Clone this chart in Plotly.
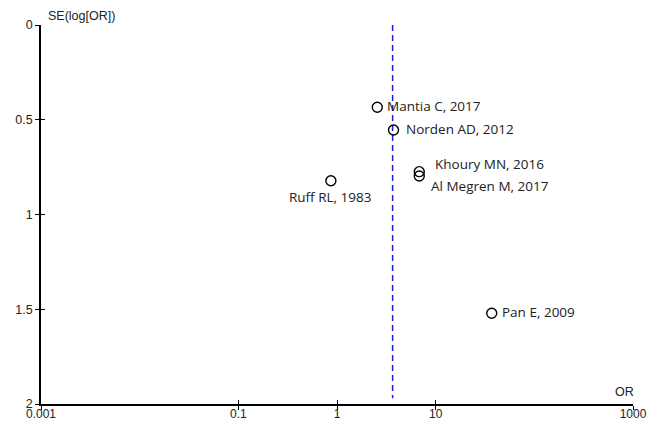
import numpy as np
import plotly.graph_objects as go

studies = ["Mantia C, 2017", "Norden AD, 2012", "Khoury MN, 2016",
           "Al Megren M, 2017", "Ruff RL, 1983", "Pan E, 2009"]
odds_ratio = [2.56, 3.74, 6.82, 6.82, 0.867, 37.0]
se_log_or = [0.434, 0.554, 0.774, 0.797, 0.822, 1.521]
pooled_or = 3.66

x_ticks = [0.001, 0.1, 1, 10, 1000]
x_tick_labels = ["0.001", "0.1", "1", "10", "1000"]
y_ticks = [0, 0.5, 1, 1.5, 2]
y_tick_labels = ["0", "0.5", "1", "1.5", "2"]

# label placement: (xshift, yshift, xanchor)
label_pos = {
    "Mantia C, 2017": (8, 1, "left"),
    "Norden AD, 2012": (10, 1, "left"),
    "Khoury MN, 2016": (14, 8, "left"),
    "Al Megren M, 2017": (10, -10, "left"),
    "Ruff RL, 1983": (-1, -16, "center"),
    "Pan E, 2009": (8, 1, "left"),
}

fig = go.Figure()

fig.add_trace(go.Scatter(
    x=[pooled_or, pooled_or], y=[0, 1.97], mode="lines",
    line=dict(color="#1a1ad8", width=1.5, dash="6px,4px"),
    hoverinfo="skip", showlegend=False))

fig.add_trace(go.Scatter(
    x=odds_ratio, y=se_log_or, mode="markers",
    marker=dict(symbol="circle-open", size=10, color="black",
                line=dict(width=1.4, color="black")),
    showlegend=False))

# faint trace to activate overlay axes (inner half of crossing ticks)
fig.add_trace(go.Scatter(x=[1], y=[1], xaxis="x2", yaxis="y2",
                         mode="markers", marker=dict(size=1, color="white"),
                         hoverinfo="skip", showlegend=False))

for s, xv, yv in zip(studies, odds_ratio, se_log_or):
    xs, ys, xa = label_pos[s]
    fig.add_annotation(x=np.log10(xv), y=yv, text=s, showarrow=False,
                       xanchor=xa, yanchor="middle", xshift=xs, yshift=ys,
                       font=dict(family="Open Sans", size=13.5, color="#222"))

fig.add_annotation(xref="paper", yref="paper", x=0.009, y=1.0, text="SE(log[OR])",
                   showarrow=False, xanchor="left", yanchor="bottom", yshift=0,
                   font=dict(family="Liberation Sans", size=12.5, color="#222"))
fig.add_annotation(xref="paper", yref="paper", x=0.985, y=0.0, text="OR",
                   showarrow=False, xanchor="center", yanchor="bottom", yshift=3,
                   font=dict(family="Liberation Sans", size=12.5, color="#222"))

axis_common = dict(showgrid=False, zeroline=False, showline=True, automargin=False,
                   linecolor="black", linewidth=1.5, tickcolor="black",
                   tickwidth=1.2, ticklen=4)

overlay_common = dict(showticklabels=False, showgrid=False, zeroline=False,
                      showline=False, automargin=False, ticks="inside",
                      tickcolor="black", tickwidth=1.2, ticklen=4)

fig.update_layout(
    width=647, height=422,
    margin=dict(l=41, r=14, t=25, b=18),
    paper_bgcolor="white", plot_bgcolor="white",
    xaxis=dict(type="log", range=[-3, 3], tickvals=x_ticks, ticktext=x_tick_labels,
               ticks="outside", ticklabelstandoff=-6,
               tickfont=dict(family="Liberation Sans", size=12, color="#222"),
               **axis_common),
    yaxis=dict(range=[2, 0], tickvals=y_ticks, ticktext=y_tick_labels,
               ticks="outside",
               tickfont=dict(family="Liberation Sans", size=12.5, color="#222"),
               **axis_common),
    xaxis2=dict(type="log", range=[-3, 3], tickvals=x_ticks, overlaying="x",
                anchor="y2", side="bottom", **overlay_common),
    yaxis2=dict(range=[2, 0], tickvals=y_ticks, overlaying="y", anchor="x2",
                side="left", **overlay_common),
)

fig.write_html("out.html",
               config={"displayModeBar": False},
               post_script="document.body.style.margin='0';"
                           "document.body.style.overflow='hidden';")
